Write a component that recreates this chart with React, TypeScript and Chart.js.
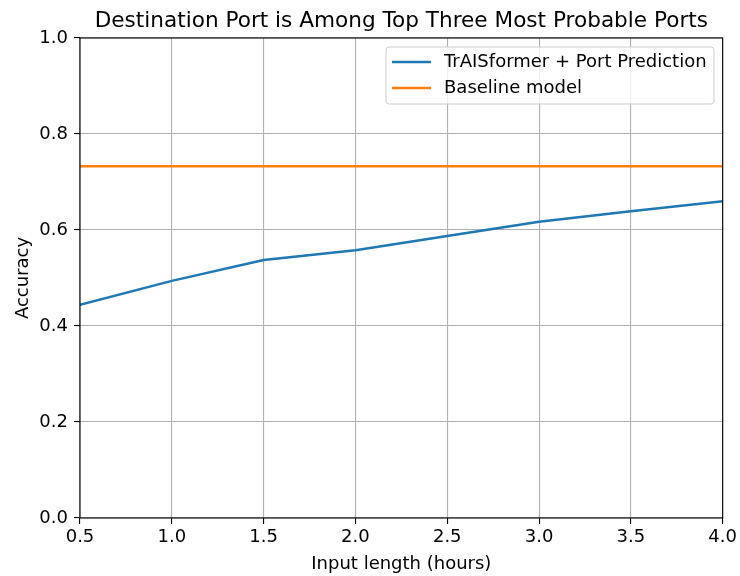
import React, { useEffect, useRef } from "react";
import { Chart, registerables } from "chart.js";

Chart.register(...registerables);

const inputHours = [0.5, 1.0, 1.5, 2.0, 2.5, 3.0, 3.5, 4.0];
const traisformerAcc = [0.444, 0.494, 0.5375, 0.558, 0.5875, 0.617, 0.639, 0.66];
const baselineAcc = [0.733, 0.733, 0.733, 0.733, 0.733, 0.733, 0.733, 0.733];
const seriesNames = ["TrAISformer + Port Prediction", "Baseline model"];
const seriesColors = ["#1f77b4", "#ff7f0e"];
const titleText = "Destination Port is Among Top Three Most Probable Ports";
const xTitle = "Input length (hours)";
const yTitle = "Accuracy";

const FONT = "'DejaVu Sans', sans-serif";

const overlay = {
  id: "overlay",
  afterDraw(chart: any) {
    const { ctx, chartArea } = chart;
    const { left, right, top, bottom } = chartArea;
    ctx.save();
    // frame
    ctx.strokeStyle = "#000";
    ctx.lineWidth = 1.1;
    ctx.strokeRect(left, top, right - left, bottom - top);
    // title
    ctx.fillStyle = "#000";
    ctx.font = `21.6px ${FONT}`;
    ctx.textAlign = "center";
    ctx.textBaseline = "alphabetic";
    ctx.fillText(titleText, (left + right) / 2, 27);
    // axis titles
    ctx.font = `18px ${FONT}`;
    ctx.fillText(xTitle, (left + right) / 2, 569);
    ctx.save();
    ctx.translate(28, (top + bottom) / 2);
    ctx.rotate(-Math.PI / 2);
    ctx.fillText(yTitle, 0, 0);
    ctx.restore();
    // legend
    const bx = 386, by = 47, bw = 328, bh = 57;
    ctx.fillStyle = "rgba(255,255,255,0.8)";
    ctx.strokeStyle = "#cccccc";
    ctx.lineWidth = 1;
    const r = 3;
    ctx.beginPath();
    ctx.moveTo(bx + r, by);
    ctx.lineTo(bx + bw - r, by);
    ctx.quadraticCurveTo(bx + bw, by, bx + bw, by + r);
    ctx.lineTo(bx + bw, by + bh - r);
    ctx.quadraticCurveTo(bx + bw, by + bh, bx + bw - r, by + bh);
    ctx.lineTo(bx + r, by + bh);
    ctx.quadraticCurveTo(bx, by + bh, bx, by + bh - r);
    ctx.lineTo(bx, by + r);
    ctx.quadraticCurveTo(bx, by, bx + r, by);
    ctx.closePath();
    ctx.fill();
    ctx.stroke();
    ctx.font = `18px ${FONT}`;
    ctx.textAlign = "left";
    ctx.textBaseline = "middle";
    seriesNames.forEach((name, i) => {
      const y = 62 + i * 26;
      ctx.strokeStyle = seriesColors[i];
      ctx.lineWidth = 2.5;
      ctx.beginPath();
      ctx.moveTo(392, y);
      ctx.lineTo(431, y);
      ctx.stroke();
      ctx.fillStyle = "#000";
      ctx.fillText(name, 444, y);
    });
    ctx.restore();
  },
};

export default function App() {
  const ref = useRef<HTMLCanvasElement>(null);
  useEffect(() => {
    document.body.style.margin = "0";
    const chart = new Chart(ref.current!, {
      type: "line",
      data: {
        datasets: [
          {
            label: seriesNames[0],
            data: inputHours.map((x, i) => ({ x, y: traisformerAcc[i] })),
            borderColor: seriesColors[0],
            borderWidth: 2.5,
            pointRadius: 0,
            tension: 0,
          },
          {
            label: seriesNames[1],
            data: inputHours.map((x, i) => ({ x, y: baselineAcc[i] })),
            borderColor: seriesColors[1],
            borderWidth: 2.5,
            pointRadius: 0,
            tension: 0,
          },
        ],
      },
      options: {
        animation: false,
        responsive: false,
        layout: { padding: { top: 38, right: 16, left: 0, bottom: 0 } },
        plugins: { legend: { display: false }, title: { display: false }, tooltip: { enabled: false } },
        scales: {
          x: {
            type: "linear",
            min: 0.5,
            max: 4.0,
            afterFit: (s: any) => { s.height = 58; },
            afterBuildTicks: (s: any) => { s.ticks = inputHours.map((v) => ({ value: v })); },
            grid: { color: "#b0b0b0", lineWidth: 1.1, tickLength: 6, tickColor: "#000", drawTicks: true },
            border: { display: false },
            ticks: {
              color: "#000",
              font: { family: FONT, size: 18 },
              padding: 3,
              maxRotation: 0,
              callback: (v: any) => Number(v).toFixed(1),
            },
          },
          y: {
            min: 0,
            max: 1,
            afterFit: (s: any) => { s.width = 80; },
            grid: { color: "#b0b0b0", lineWidth: 1.1, tickLength: 6, tickColor: "#000", drawTicks: true },
            border: { display: false },
            ticks: {
              stepSize: 0.2,
              color: "#000",
              font: { family: FONT, size: 18 },
              padding: 6,
              callback: (v: any) => Number(v).toFixed(1),
            },
          },
        },
      },
      plugins: [overlay],
    });
    return () => chart.destroy();
  }, []);
  return (
    <div style={{ width: 740, height: 576 }}>
      <canvas ref={ref} width={740} height={576} style={{ display: "block" }} />
    </div>
  );
}
